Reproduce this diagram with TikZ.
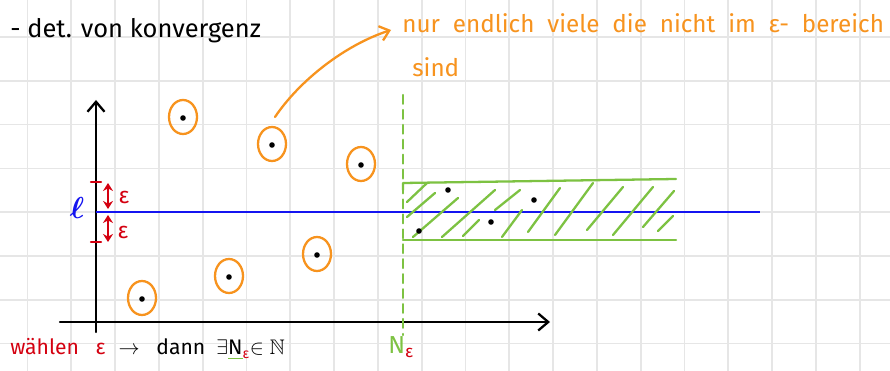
\documentclass[tikz,border=0pt]{standalone}
\usepackage{amsmath}
\usepackage{amssymb}
\usepackage{fontspec}
\setmainfont{Fira Sans}
\newfontfamily\notefont[WordSpace=2.0]{Fira Sans}
\usetikzlibrary{arrows.meta, positioning}
\definecolor{gridgray}{HTML}{E6E6E6}
\definecolor{penorange}{HTML}{F7931E}
\definecolor{pengreen}{HTML}{7DC242}
\definecolor{penred}{HTML}{D40010}
\definecolor{penblue}{HTML}{1414F0}

\begin{document}
\begin{tikzpicture}[
    x=0.02cm, y=-0.02cm,
    every node/.style={inner sep=0pt, anchor=base west},
    gridline/.style={line width=1pt, color=gridgray},
    pen/.style={line width=1.3pt, line cap=round, line join=round},
    axis/.style={pen, black, -{Straight Barb[length=2mm, width=3.4mm]}},
    limit/.style={line width=1.5pt, color=penblue},
    ring/.style={pen, color=penorange},
    curvearrow/.style={pen, color=penorange, -{Straight Barb[length=1.8mm, width=3mm]}},
    epsarrow/.style={pen, color=penred, {Stealth[length=1.6mm, width=2mm]}-{Stealth[length=1.6mm, width=2mm]}},
    epstick/.style={pen, color=penred},
    nline/.style={pen, color=pengreen, dash pattern=on 5pt off 3.5pt},
    band/.style={pen, color=pengreen},
    hatch/.style={pen, color=pengreen},
    blacktext/.style={font=\fontsize{14.5}{16}\selectfont},
    notetext/.style={font=\notefont\fontsize{13.8}{16}\selectfont, text=penorange},
    bottomtext/.style={font=\fontsize{12}{14}\selectfont}
]

\useasboundingbox (0,0) rectangle (890,371);
\fill[white] (0,0) rectangle (890,371);
\foreach \gx in {0,...,19}
    \draw[gridline] ({27.5+43.8*\gx},0) -- ++(0,371);
\foreach \gy in {0,...,7}
    \draw[gridline] (0,{37+43.8*\gy}) -- ++(890,0);

\node[blacktext] (title) at (10,38) {- det. von konvergenz};
\node[notetext] (note) at (402,33) {nur endlich viele die nicht im ε- bereich};
\node[notetext] (notecont) at (412,77) {sind};

\coordinate (hook) at (275,117);
\coordinate (hooktip) at (391,30);
\draw[curvearrow] (hook) .. controls (300,80) and (345,45) .. (hooktip);

\coordinate (ybot) at (96,332);
\coordinate (ytop) at (96,100);
\coordinate (xleft) at (60,322);
\coordinate (xright) at (550,322);
\draw[axis] (ybot) -- (ytop);
\draw[axis] (xleft) -- (xright);

\coordinate (lstart) at (96,212);
\coordinate (lend) at (760,212);
\draw[limit] (lstart) -- (lend);
\node[anchor=center, text=penblue, font=\fontsize{16}{18}\selectfont] (ell) at (77,208) {$\boldsymbol{\ell}$};

\draw[epstick] (91,182) -- (101,182);
\draw[epstick] (91,242) -- (101,242);
\draw[epsarrow] (108,183) -- (108,209);
\draw[epsarrow] (108,215) -- (108,242);
\node[anchor=center, text=penred, font=\fontsize{13}{15}\selectfont] (epsup) at (124,197) {ε};
\node[anchor=center, text=penred, font=\fontsize{13}{15}\selectfont] (epsdown) at (123,232) {ε};

\foreach \cx/\cy in {183/117, 272/144, 361/164, 142/298, 229/276, 317/254} {
    \draw[ring] (\cx,\cy) ellipse (14 and 17);
    \fill (\cx,\cy+1) circle (2.8);
}

\draw[nline] (403,95) -- (403,335);
\draw[band] (403,190) -- (403,183) -- (676,179);
\draw[band] (403,240) -- (676,240);
\foreach \ax/\ay/\bx/\by in {407/202/427/183, 407/217/435/193, 413/237/458/198,
        442/237/495/190, 463/236/479/220, 495/210/520/190, 502/237/522/210,
        528/232/560/188, 555/235/593/183, 587/230/623/187, 613/235/653/187,
        643/227/674/191, 658/231/673/216}
    \draw[hatch] (\ax,\ay) -- (\bx,\by);
\foreach \dx/\dy in {448/190, 534/200, 491/222, 419/231}
    \fill (\dx,\dy) circle (2.8);

\node[bottomtext, text=penred] (choose) at (10,355) {wählen \ \ ε};
\node[bottomtext, base right=7pt of choose] (then) {$\rightarrow$\ \ \ dann\ \ $\exists$\textcolor{pengreen}{\underline{\textcolor{black}{N}}}\textsubscript{\textcolor{penred}{ε}}$\in$\ $\mathbb{N}$};
\node[text=pengreen, font=\fontsize{14}{16}\selectfont] (nlabel) at (388,354) {N\textsubscript{\textcolor{penred}{ε}}};

\end{tikzpicture}
\end{document}
